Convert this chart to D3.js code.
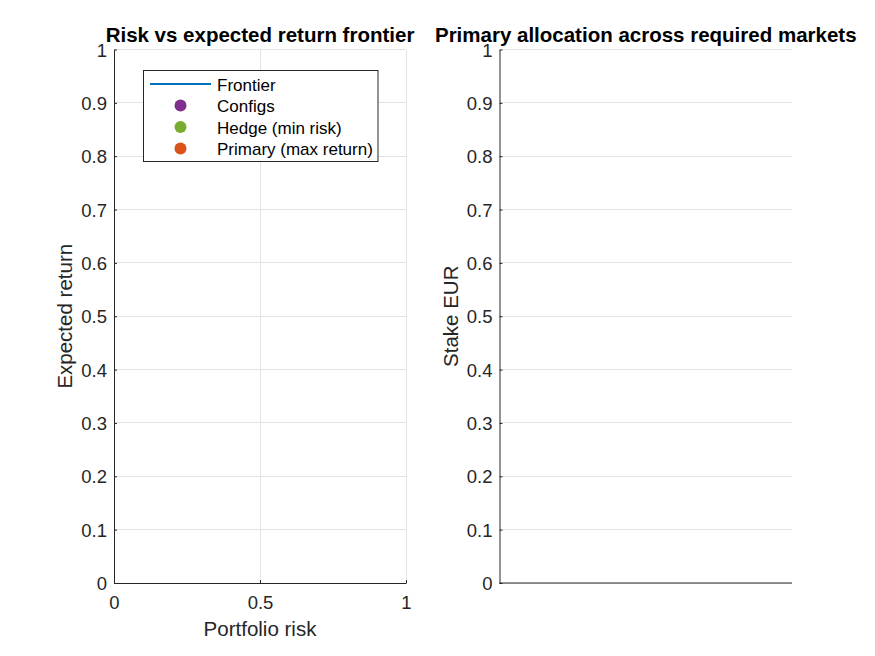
<!DOCTYPE html>
<html><head><meta charset="utf-8">
<script src="https://cdn.jsdelivr.net/npm/d3@7"></script>
<style>body{margin:0;background:#fff}svg{display:block}text{font-family:"Liberation Sans",Arial,sans-serif;fill:#262626}</style>
</head><body><svg id="c" width="875" height="656"></svg>
<script>
const xTicks = [0, 0.5, 1];
const yTicks = [0, 0.1, 0.2, 0.3, 0.4, 0.5, 0.6, 0.7, 0.8, 0.9, 1];
const frontierRisk = [];
const frontierReturn = [];
const markets = [];
const stakes = [];
const legendItems = [
  {label: "Frontier", type: "line", color: "#0072BD"},
  {label: "Configs", type: "dot", color: "#7E2F8E"},
  {label: "Hedge (min risk)", type: "dot", color: "#77AC30"},
  {label: "Primary (max return)", type: "dot", color: "#D95319"}
];

const svg = d3.select("#c");
const plotTop = 49.5, plotBottom = 583;
const axCol = "#262626", gridCol = "#e3e3e3";

function fmt(d){ return d === 0 ? "0" : d === 1 ? "1" : String(d); }

function panel(x0, x1, opts){
  const g = svg.append("g");
  const y = d3.scaleLinear().domain([0,1]).range([plotBottom, plotTop]);
  const x = d3.scaleLinear().domain([0,1]).range([x0, x1]);
  g.selectAll(".gy").data(yTicks).join("line")
    .attr("x1", x0).attr("x2", x1).attr("y1", d=>y(d)).attr("y2", d=>y(d))
    .attr("stroke", gridCol).attr("stroke-width", 1).attr("shape-rendering","crispEdges");
  if (opts.xGrid) {
    g.selectAll(".gx").data(xTicks).join("line")
      .attr("x1", d=>x(d)).attr("x2", d=>x(d)).attr("y1", plotTop).attr("y2", plotBottom)
      .attr("stroke", gridCol).attr("stroke-width", 1).attr("shape-rendering","crispEdges");
  }
  const ya = d3.axisLeft(y).tickValues(yTicks).tickFormat(fmt).tickSizeInner(-3).tickSizeOuter(0).tickPadding(7);
  const yg = g.append("g").attr("transform", `translate(${x0},0)`).call(ya);
  yg.select(".domain").attr("stroke", axCol);
  yg.selectAll(".tick line").attr("stroke", axCol);
  yg.selectAll("text").style("font-size","18.5px").attr("dy","0.36em").attr("fill", axCol);
  if (opts.xTicks) {
    const xa = d3.axisBottom(x).tickValues(xTicks).tickFormat(fmt).tickSizeInner(-3).tickSizeOuter(0).tickPadding(10);
    const xg = g.append("g").attr("transform", `translate(0,${plotBottom})`).call(xa);
    xg.select(".domain").attr("stroke", axCol);
    xg.selectAll(".tick line").attr("stroke", axCol);
    xg.selectAll("text").attr("y", 26).attr("dy", 0).style("font-size","18.5px").attr("fill", axCol);
  } else {
    g.append("line").attr("x1", x0).attr("x2", x1).attr("y1", plotBottom).attr("y2", plotBottom).attr("stroke", axCol);
  }
  g.append("text").attr("x", (x0+x1)/2).attr("y", 42).attr("text-anchor","middle")
    .style("font-size","20.5px").style("font-weight","bold").style("fill","#000").text(opts.title);
  if (opts.xlabel) g.append("text").attr("x",(x0+x1)/2).attr("y", 636).attr("text-anchor","middle")
    .style("font-size","20.5px").text(opts.xlabel);
  g.append("text").attr("transform", `translate(${opts.ylx},${(plotTop+plotBottom)/2}) rotate(-90)`)
    .attr("text-anchor","middle").style("font-size","20.5px").text(opts.ylabel);
  return {g, x, y};
}

const L = panel(114, 406, {xGrid:true, xTicks:true, title:"Risk vs expected return frontier", xlabel:"Portfolio risk", ylabel:"Expected return", ylx:72});
L.g.append("path").datum(frontierRisk.map((r,i)=>[r, frontierReturn[i]]))
  .attr("fill","none").attr("stroke","#0072BD").attr("stroke-width",2)
  .attr("d", d3.line().x(d=>L.x(d[0])).y(d=>L.y(d[1])));

const R = panel(499.5, 792, {xGrid:false, xTicks:false, title:"Primary allocation across required markets", ylabel:"Stake EUR", ylx:458});

const lg = svg.append("g");
lg.append("rect").attr("x",143.5).attr("y",70.5).attr("width",234.5).attr("height",91)
  .attr("fill","#fff").attr("stroke","#262626").attr("stroke-width",1);
legendItems.forEach((it,i)=>{
  const cy = 84 + i*21.5;
  if (it.type === "line") {
    lg.append("line").attr("x1",150).attr("x2",211).attr("y1",cy).attr("y2",cy).attr("stroke",it.color).attr("stroke-width",2.2);
  } else {
    lg.append("circle").attr("cx",180.5).attr("cy",cy).attr("r",6).attr("fill",it.color);
  }
  lg.append("text").attr("x",217).attr("y",cy+6.8).style("font-size","17px").style("fill","#000").text(it.label);
});
</script></body></html>
